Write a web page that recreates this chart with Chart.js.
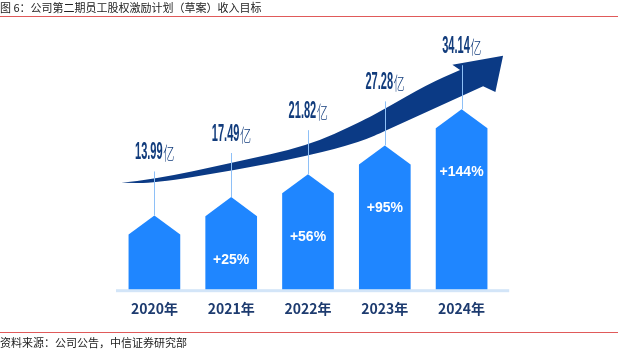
<!DOCTYPE html>
<html>
<head>
<meta charset="utf-8">
<script src="https://cdn.jsdelivr.net/npm/chart.js@4"></script>
<style>
  body { margin: 0; background: #fff; }
  #wrap { position: relative; width: 618px; height: 352px; overflow: hidden; font-family: "Noto Sans CJK SC", sans-serif; }
  #myChart { position: absolute; left: 0; top: 0; }
  .title { position: absolute; left: 0; top: 1px; font-size: 11px; line-height: 13px; color: #222; }
  .src { position: absolute; left: 0; top: 336px; font-size: 11px; line-height: 13px; color: #222; }
  .rule { position: absolute; left: 0; width: 618px; height: 1px; background: #e05a5a; }
</style>
</head>
<body>
<div id="wrap">
  <canvas id="myChart" width="618" height="352"></canvas>
  <div class="title">图 6：公司第二期员工股权激励计划（草案）收入目标</div>
  <div class="rule" style="top:16px"></div>
  <div class="rule" style="top:332px"></div>
  <div class="src">资料来源：公司公告，中信证券研究部</div>
</div>
<script>
// data
var years = ['2020年', '2021年', '2022年', '2023年', '2024年'];
var revenue = [13.99, 17.49, 21.82, 27.28, 34.14];   // 亿
var valueLabels = ['13.99', '17.49', '21.82', '27.28', '34.14'];
var growthLabels = ['', '+25%', '+56%', '+95%', '+144%'];

// arrow outline in data units (category index, value)
var arrowTop = [[-0.43, 20.2], [-0.02, 20.8], [1.02, 24.0], [2.0, 27.2], [2.68, 31.7], [3.0, 34.2], [3.55, 38.8], [3.98, 41.6]];
var arrowHead = [[3.88, 42.6], [4.54, 44.3], [4.44, 37.4], [4.28, 38.5]];
var arrowBottom = [[3.55, 34.7], [3.0, 30.0], [2.68, 27.9], [2.0, 25.3], [1.02, 22.5], [-0.02, 20.1], [-0.43, 20.2]];

var barBlue = '#1f86ff';
var navy = '#123c7c';

function smoothPath(ctx, pts, start) {
    if (start) ctx.moveTo(pts[0][0], pts[0][1]);
    for (var i = 1; i < pts.length - 1; i++) {
        var mx = (pts[i][0] + pts[i + 1][0]) / 2;
        var my = (pts[i][1] + pts[i + 1][1]) / 2;
        ctx.quadraticCurveTo(pts[i][0], pts[i][1], mx, my);
    }
    ctx.lineTo(pts[pts.length - 1][0], pts[pts.length - 1][1]);
}

var decor = {
    id: 'decor',
    beforeDatasetsDraw: function(chart) {
        var ctx = chart.ctx, xs = chart.scales.x, ys = chart.scales.y, area = chart.chartArea;
        var px = function(p) { return [xs.getPixelForValue(p[0]), ys.getPixelForValue(p[1])]; };
        ctx.save();
        // base line
        ctx.fillStyle = '#d3e5f8';
        ctx.fillRect(area.left, area.bottom, (area.right - area.left) * 1.024, 3);
        // arrow
        ctx.fillStyle = '#0b3a85';
        ctx.beginPath();
        smoothPath(ctx, arrowTop.map(px), true);
        arrowHead.map(px).forEach(function(p) { ctx.lineTo(p[0], p[1]); });
        smoothPath(ctx, arrowBottom.map(px), false);
        ctx.closePath();
        ctx.fill();
        ctx.restore();
    },
    afterDatasetsDraw: function(chart) {
        var ctx = chart.ctx;
        var meta = chart.getDatasetMeta(0);
        ctx.save();
        meta.data.forEach(function(bar, i) {
            var p = bar.getProps(['x', 'y', 'base', 'width'], true);
            var half = p.width / 2, drop = p.width * 0.37;
            // house shaped bar
            ctx.fillStyle = barBlue;
            ctx.beginPath();
            ctx.moveTo(p.x - half, p.base);
            ctx.lineTo(p.x - half, p.y + drop);
            ctx.lineTo(p.x, p.y);
            ctx.lineTo(p.x + half, p.y + drop);
            ctx.lineTo(p.x + half, p.base);
            ctx.closePath();
            ctx.fill();
            // thin pointer line
            ctx.strokeStyle = '#8ec0f7';
            ctx.lineWidth = 1;
            ctx.beginPath();
            ctx.moveTo(Math.round(p.x) + 0.5, p.y);
            ctx.lineTo(Math.round(p.x) + 0.5, p.y - 44);
            ctx.stroke();
            // value label: condensed digits + 亿
            ctx.textBaseline = 'alphabetic';
            ctx.font = 'bold 24px "Liberation Sans"';
            var numW = ctx.measureText(valueLabels[i]).width * 0.46;
            ctx.font = '300 18px "Noto Sans CJK SC"';
            var unitW = ctx.measureText('亿').width * 0.62;
            var left = p.x - (numW + unitW) / 2;
            var baseY = p.y - 56;
            ctx.fillStyle = navy;
            ctx.save();
            ctx.translate(left, baseY);
            ctx.scale(0.46, 1);
            ctx.font = 'bold 24px "Liberation Sans"';
            ctx.fillText(valueLabels[i], 0, 0);
            ctx.restore();
            ctx.save();
            ctx.translate(left + numW + 0.5, baseY + 1);
            ctx.scale(0.62, 1);
            ctx.font = '300 18px "Noto Sans CJK SC"';
            ctx.fillText('亿', 0, 0);
            ctx.restore();
            // growth label inside bar
            if (growthLabels[i]) {
                ctx.fillStyle = '#ffffff';
                ctx.font = 'bold 14px "Liberation Sans"';
                ctx.textAlign = 'center';
                ctx.textBaseline = 'middle';
                ctx.fillText(growthLabels[i], p.x, p.y + 63);
                ctx.textAlign = 'start';
            }
        });
        ctx.restore();
    }
};

var ctx = document.getElementById('myChart').getContext('2d');

var myChart = new Chart(ctx, {
    type: 'bar',
    data: {
        labels: years,
        datasets: [{
            data: revenue,
            backgroundColor: 'rgba(0,0,0,0)',
            categoryPercentage: 1,
            barPercentage: 0.673
        }]
    },
    options: {
        responsive: false,
        devicePixelRatio: 1,
        animation: false,
        layout: { padding: { left: 116, right: 118, top: 52, bottom: 24 } },
        plugins: { legend: { display: false }, tooltip: { enabled: false } },
        scales: {
            x: {
                offset: true,
                grid: { display: false, drawTicks: false },
                border: { display: false },
                ticks: {
                    padding: 11,
                    color: '#1d3b6f',
                    font: { family: '"Noto Sans CJK SC"', size: 14, weight: 'bold' }
                }
            },
            y: { display: false, min: 0, max: 45 }
        }
    },
    plugins: [decor]
});
</script>
</body>
</html>
